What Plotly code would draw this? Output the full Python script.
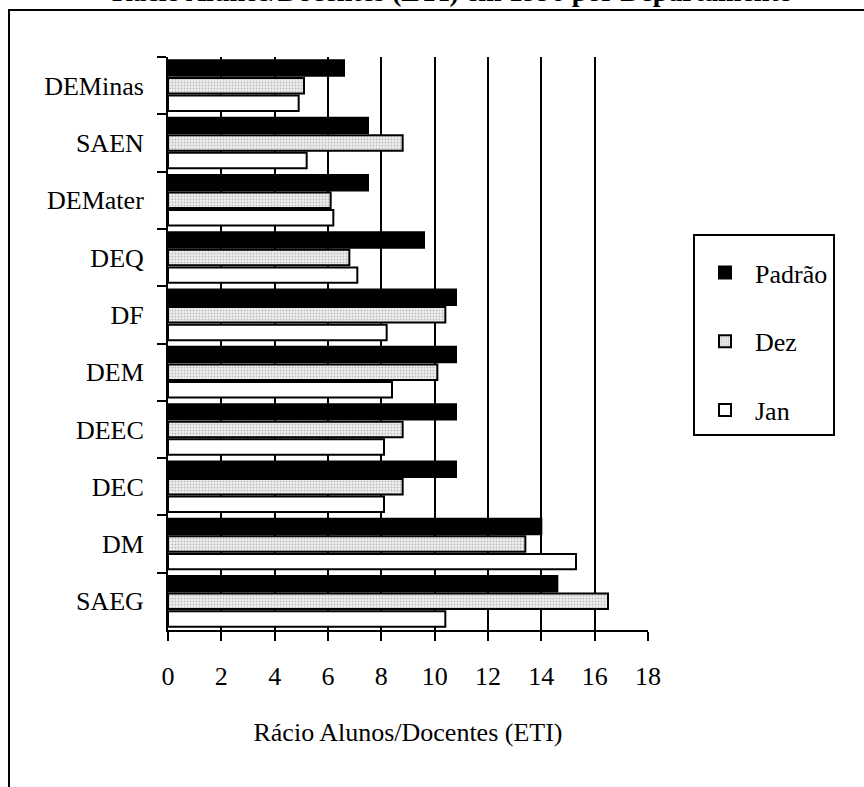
import numpy as np
import plotly.graph_objects as go

# ---- data ----
departamentos = ["DEMinas", "SAEN", "DEMater", "DEQ", "DF", "DEM", "DEEC", "DEC", "DM", "SAEG"]
padrao = [6.6, 7.5, 7.5, 9.6, 10.8, 10.8, 10.8, 10.8, 14.0, 14.6]
dez = [5.1, 8.8, 6.1, 6.8, 10.4, 10.1, 8.8, 8.8, 13.4, 16.5]
jan = [4.9, 5.2, 6.2, 7.1, 8.2, 8.4, 8.1, 8.1, 15.3, 10.4]
series_names = ["Padrão", "Dez", "Jan"]
x_ticks = [0, 2, 4, 6, 8, 10, 12, 14, 16, 18]
titulo = "Rácio Alunos/Docentes (ETI) em 1996 por Departamento"
x_title = "Rácio Alunos/Docentes (ETI)"

# ---- layout geometry ----
W, H = 864, 787
L, R, T, B = 168, 216, 57, 157
PW, PH = W - L - R, H - T - B
FONT = "Liberation Serif, Times New Roman, serif"


def px_x(p):
    return (p - L) / PW


def px_y(p):
    return (H - B - p) / PH


n = len(departamentos)

fig = go.Figure()
fig.add_trace(go.Bar(
    y=departamentos, x=padrao, name=series_names[0], orientation="h",
    legendgroup="a",
    marker=dict(color="black", line=dict(color="black", width=2)),
))
fig.add_trace(go.Bar(
    y=departamentos, x=dez, name=series_names[1], orientation="h",
    legendgroup="b",
    marker=dict(color="#e6e6e6", line=dict(color="black", width=2),
                pattern=dict(shape=".", fgcolor="#8a8a8a", bgcolor="#eeeeee",
                             size=3, solidity=0.3)),
))
fig.add_trace(go.Bar(
    y=departamentos, x=jan, name=series_names[2], orientation="h",
    legendgroup="c",
    marker=dict(color="white", line=dict(color="black", width=2)),
))

fig.update_layout(
    width=W, height=H,
    margin=dict(l=L, r=R, t=T, b=B, pad=0),
    paper_bgcolor="white", plot_bgcolor="white",
    barmode="group", bargap=0.08, bargroupgap=0.12,
    font=dict(family=FONT, size=26, color="black"),
    showlegend=True,
    legend=dict(
        x=px_x(693), y=px_y(234), xanchor="left", yanchor="top",
        bordercolor="black", borderwidth=2, bgcolor="white",
        font=dict(family=FONT, size=26, color="black"),
        tracegroupgap=32, traceorder="grouped",
        itemwidth=50,
        title=dict(text=" ", side="top", font=dict(family=FONT, size=10)),
    ),
    xaxis=dict(
        range=[0, 18], tickvals=x_ticks, ticktext=[str(v) for v in x_ticks],
        showgrid=True, gridcolor="black", gridwidth=2,
        showline=True, linecolor="black", linewidth=2,
        ticks="outside", ticklen=9, tickwidth=2, tickcolor="black",
        zeroline=False, ticklabelstandoff=13,
        tickfont=dict(family=FONT, size=26, color="black"),
        title=dict(text=x_title, standoff=33,
                   font=dict(family=FONT, size=26, color="black")),
    ),
    yaxis=dict(
        type="category", categoryorder="array", categoryarray=departamentos,
        range=[n - 0.5, -0.5],
        tickson="boundaries", ticks="outside", ticklen=9, tickwidth=2,
        tickcolor="black", showgrid=False, zeroline=False,
        showline=True, linecolor="black", linewidth=2,
        ticklabelstandoff=17,
        tickfont=dict(family=FONT, size=26, color="black"),
    ),
    xaxis2=dict(
        overlaying="x", anchor="y", side="bottom", range=[0, 18],
        tickvals=x_ticks, ticks="inside", ticklen=9, tickwidth=2,
        tickcolor="black", showticklabels=False, showgrid=False,
        zeroline=False, showline=False,
    ),
    yaxis2=dict(
        overlaying="y", anchor="x", side="left", range=[n - 0.5, -0.5],
        tickvals=list(np.arange(n + 1) - 0.5), ticks="inside", ticklen=9,
        tickwidth=2, tickcolor="black", showticklabels=False,
        showgrid=False, zeroline=False, showline=False,
    ),
    shapes=[dict(
        type="rect", xref="paper", yref="paper",
        x0=px_x(9), x1=px_x(W + 40), y0=px_y(H + 40), y1=px_y(10),
        line=dict(color="black", width=2), fillcolor="rgba(0,0,0,0)",
        layer="above",
    )],
    annotations=[dict(
        text="<b>" + titulo + "</b>", xref="paper", yref="paper",
        x=px_x(452), y=px_y(9), xanchor="center", yanchor="bottom",
        showarrow=False, font=dict(family=FONT, size=28, color="black"),
    )],
)

fig.write_html("out.html")
